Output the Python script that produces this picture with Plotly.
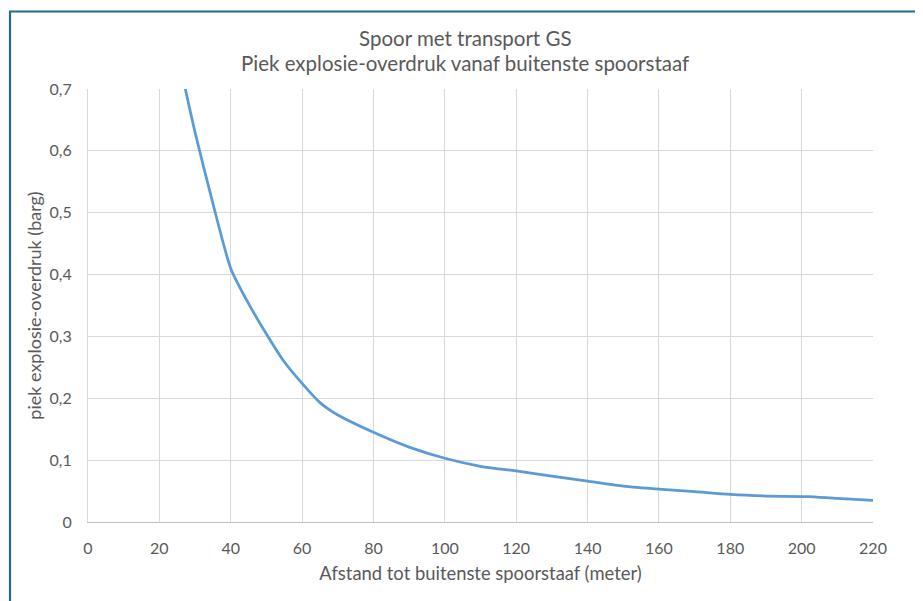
import plotly.graph_objects as go

# Data
afstand = [25, 30, 35, 40, 45, 50, 55, 60, 65, 67.5, 70, 80, 90, 100, 110, 115,
           120, 130, 140, 150, 160, 170, 180, 190, 200, 202, 210, 220]
overdruk = [0.76, 0.63, 0.515, 0.41, 0.353, 0.304, 0.259, 0.224, 0.193, 0.182,
            0.173, 0.145, 0.121, 0.103, 0.090, 0.086, 0.0825, 0.074, 0.066,
            0.058, 0.053, 0.049, 0.0445, 0.042, 0.041, 0.041, 0.038, 0.035]

x_ticks = [0, 20, 40, 60, 80, 100, 120, 140, 160, 180, 200, 220]
y_ticks = [0, 0.1, 0.2, 0.3, 0.4, 0.5, 0.6, 0.7]

title_lines = ["Spoor met transport GS", "Piek explosie-overdruk vanaf buitenste spoorstaaf"]
x_title = "Afstand tot buitenste spoorstaaf (meter)"
y_title = "piek explosie-overdruk (barg)"

FONT = "Lato"
GREY = "#595959"
GRID = "#d9d9d9"
OFF = 8  # page body margin

fig = go.Figure()
fig.add_trace(go.Scatter(
    x=afstand, y=overdruk, mode="lines",
    line=dict(color="#5B9BD5", width=2.75, shape="spline", smoothing=0.6),
    showlegend=False, hoverinfo="x+y",
))

W, H = 915, 593
L, T = 88 - OFF, 89 - OFF
pw, ph = 785, 433
R = W - L - pw
B = H - T - ph

def px_to_paper_x(px):
    return (px - OFF - L) / pw

def px_to_paper_y(py):
    return (T + ph - (py - OFF)) / ph

fig.add_shape(
    type="rect", xref="paper", yref="paper",
    x0=px_to_paper_x(10), x1=px_to_paper_x(918.5),
    y0=px_to_paper_y(640), y1=px_to_paper_y(11.5),
    line=dict(color="#21698E", width=2.2), fillcolor="rgba(0,0,0,0)", layer="below",
)

for text, cy in zip(title_lines, [38, 63]):
    fig.add_annotation(
        text=text, xref="paper", yref="paper",
        x=px_to_paper_x(465), y=px_to_paper_y(cy),
        xanchor="center", yanchor="middle", showarrow=False,
        font=dict(family=FONT, size=20.5, color=GREY),
    )

fig.update_layout(
    width=W, height=H,
    margin=dict(l=L, r=R, t=T, b=B),
    paper_bgcolor="white", plot_bgcolor="white",
    separators=",.",
    font=dict(family=FONT, color=GREY, size=15),
    xaxis=dict(
        range=[0, 220], tickvals=x_ticks, ticktext=[str(v) for v in x_ticks],
        showgrid=True, gridcolor=GRID, gridwidth=1,
        showline=True, linecolor="#bfbfbf", linewidth=1, mirror=False,
        zeroline=False, ticks="outside", ticklen=12, tickcolor="rgba(0,0,0,0)",
        tickfont=dict(family=FONT, size=16, color=GREY),
        title=dict(text=x_title, font=dict(family=FONT, size=18.4, color=GREY), standoff=10),
        fixedrange=True,
    ),
    yaxis=dict(
        range=[0, 0.7], tickvals=y_ticks,
        ticktext=[("0" if v == 0 else f"{v:.1f}".replace(".", ",")) for v in y_ticks],
        showgrid=True, gridcolor=GRID, gridwidth=1,
        showline=True, linecolor=GRID, linewidth=1,
        zeroline=False, ticks="outside", ticklen=12, tickcolor="rgba(0,0,0,0)",
        tickfont=dict(family=FONT, size=16, color=GREY),
        title=dict(text=y_title, font=dict(family=FONT, size=18, color=GREY), standoff=3),
        fixedrange=True,
    ),
)

fig.write_html("out.html")
